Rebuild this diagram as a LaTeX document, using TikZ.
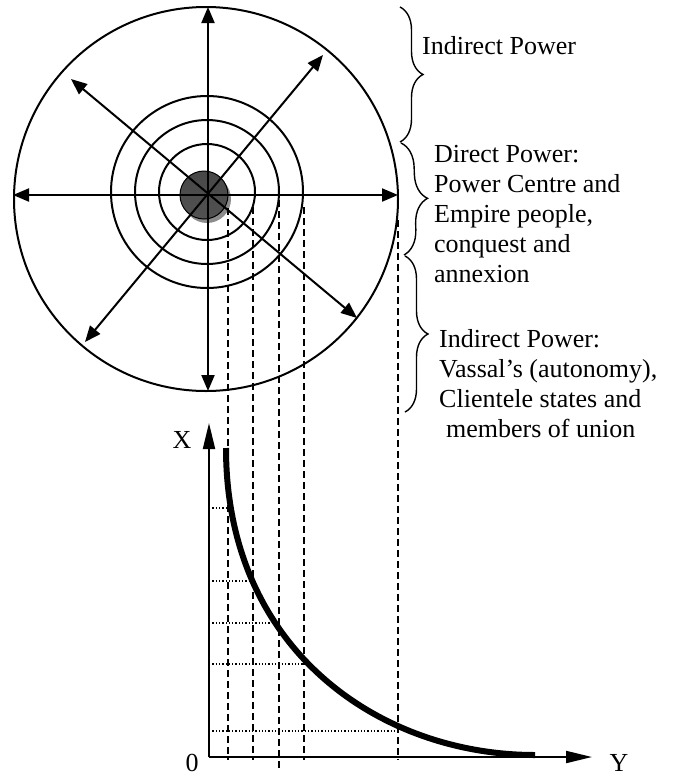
\documentclass[tikz,border=0pt]{standalone}
\usepackage{fontspec}
\setmainfont{Liberation Serif}
\usetikzlibrary{arrows.meta,decorations.pathreplacing}

\begin{document}
\begin{tikzpicture}[x=1pt,y=-1pt,
ring/.style={line width=2pt},
ray/.style={{Triangle[length=16pt,width=13pt]}-{Triangle[length=16pt,width=13pt]},line width=2pt},
axis/.style={-{Triangle[length=26pt,width=12pt]},line width=2pt},
drop/.style={line width=2pt,dash pattern=on 7pt off 4pt},
level/.style={line width=1.3pt,dash pattern=on 1.3pt off 2pt},
brace/.style={decorate,decoration={brace,amplitude=#1},line width=1.4pt},
ball/.style={circle,minimum size=48pt,inner sep=0pt,draw=black,line width=1pt,
  shading=axis,top color=black!72,middle color=black,bottom color=black!68},
shade/.style={circle,minimum size=48pt,inner sep=0pt,fill=black!45},
txt/.style={font=\fontsize{26}{30}\selectfont,inner sep=0pt,anchor=north west,align=left},
lbl/.style={font=\fontsize{26}{30}\selectfont,inner sep=0pt}]
\useasboundingbox (0,0) rectangle (681,777);
\coordinate (hub) at (207,192);
\coordinate (rim) at (206,199);
\draw[ring] (rim) circle (192pt);
\foreach \r in {48,72,96} \draw[ring] (hub) circle (\r pt);
\node[shade] (umbra) at (207,199) {};
\node[ball] (core) at (204,195) {};
\draw[ray] (13,195) coordinate (w) -- (398,195) coordinate (e);
\draw[ray] (208,7) coordinate (n) -- (208,391) coordinate (s);
\draw[ray] (71,79) coordinate (nw) -- (357,318) coordinate (se);
\draw[ray] (323,55) coordinate (ne) -- (85,342) coordinate (sw);
\coordinate (o) at (209,757);
\coordinate (xt) at (209,423);
\coordinate (yt) at (592,757);
\foreach \x/\t/\b [count=\i] in {228/208/760,253/207/760,279/200/770,304/207/760,398/220/760}
  \draw[drop] (\x,\t) coordinate (d\i) -- (\x,\b);
\foreach \p/\q [count=\i] in {228/508,253/581,279/623,304/664,398/731}
  \draw[level] (o |- {(\p,\q)}) -- (\p,\q) coordinate (c\i);
\draw[axis] (o) -- (xt);
\draw[axis] (o) -- (yt);
\draw[line width=6pt] (226,448) coordinate (top) .. controls (226,650) and (380,755) .. (535,755) coordinate (tail);
\node[lbl] (xl) at (182,440) {X};
\node[lbl,anchor=north] (zl) at (192,754) {0};
\node[lbl,anchor=north] (yl) at (619,754) {Y};
\draw[brace=23pt] (400,7) -- (400,142);
\draw[brace=25pt] (401,143) -- (404,255);
\draw[brace=23pt] (405,256) -- (405,412);
\node[txt] (ind) at (422,36) {Indirect Power};
\node[txt] (dir) at (434,145) {Direct Power:\\Power Centre and\\Empire people,\\conquest and\\annexion};
\node[txt] (vas) at (439,329) {Indirect Power:\\Vassal’s (autonomy),\\Clientele states and\\\hspace{7pt}members of union};
\end{tikzpicture}
\end{document}
